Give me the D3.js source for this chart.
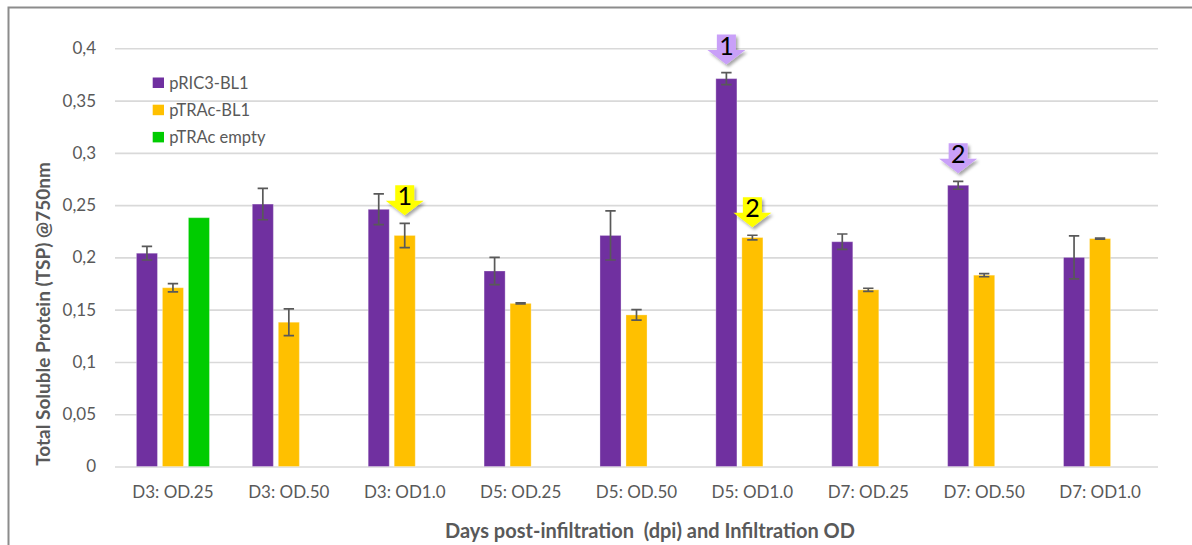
<!DOCTYPE html>
<html>
<head>
<meta charset="utf-8">
<script src="https://cdn.jsdelivr.net/npm/d3@7/dist/d3.min.js"></script>
<style>
  html, body { margin: 0; padding: 0; background: #fff; }
  svg { display: block; font-family: Lato, "Liberation Sans", sans-serif; }
</style>
</head>
<body>
<svg id="chart" width="1192" height="545"></svg>
<script>
// Sample groups: days post-infiltration and infiltration OD
const categories = ["D3: OD.25", "D3: OD.50", "D3: OD1.0", "D5: OD.25", "D5: OD.50",
                    "D5: OD1.0", "D7: OD.25", "D7: OD.50", "D7: OD1.0"];
const seriesNames = ["pRIC3-BL1", "pTRAc-BL1", "pTRAc empty"];
const seriesColors = ["#7030A0", "#FFC000", "#00CC00"];

// Mean TSP values and error (±) per construct
const pRIC3Values = [0.204, 0.251, 0.246, 0.187, 0.221, 0.371, 0.215, 0.269, 0.200];
const pRIC3Errors = [0.0065, 0.015, 0.0147, 0.013, 0.0235, 0.0058, 0.0074, 0.0038, 0.0205];
const pTRAcValues = [0.171, 0.138, 0.221, 0.156, 0.145, 0.219, 0.169, 0.183, 0.218];
const pTRAcErrors = [0.004, 0.0128, 0.0116, 0.0005, 0.005, 0.0022, 0.0015, 0.0015, 0.0005];
const emptyValues = [0.238, null, null, null, null, null, null, null, null];

const yTicks = [0, 0.05, 0.1, 0.15, 0.2, 0.25, 0.3, 0.35, 0.4];

// Numbered callout arrows above selected bars
const callouts = [
  { series: 0, category: "D5: OD1.0", label: "1", fill: "#C9A0F8" },
  { series: 0, category: "D7: OD.50", label: "2", fill: "#C9A0F8" },
  { series: 1, category: "D3: OD1.0", label: "1", fill: "#FFFF00" },
  { series: 1, category: "D5: OD1.0", label: "2", fill: "#FFFF00" }
];

const seriesValues = [pRIC3Values, pTRAcValues, emptyValues];
const seriesErrors = [pRIC3Errors, pTRAcErrors, null];

const svg = d3.select("#chart");
const textColor = "#595959";
const gridColor = "#D9D9D9";

const plot = { left: 115, right: 1158, top: 48.3, bottom: 466.5 };

const x = d3.scaleBand().domain(categories).range([plot.left, plot.right]);
const half = x.bandwidth() / 2;
const xInner = d3.scaleBand().domain(d3.range(seriesNames.length))
  .range([half - 39, half + 39]).paddingInner(0.19).paddingOuter(0.095);
const y = d3.scaleLinear().domain([0, 0.4]).range([plot.bottom, plot.top]);

const locale = d3.formatLocale({ decimal: ",", thousands: ".", grouping: [3], currency: ["", "€"] });
const fmt = locale.format("~g");

// Chart frame
svg.append("path")
  .attr("d", "M8.5,545 L8.5,7.5 L1192,7.5")
  .attr("fill", "none").attr("stroke", "#8C8C8C").attr("stroke-width", 2);

// Shadow for callouts
const defs = svg.append("defs");
const shadow = defs.append("filter").attr("id", "shadow")
  .attr("x", "-30%").attr("y", "-30%").attr("width", "160%").attr("height", "160%");
shadow.append("feDropShadow").attr("dx", 2).attr("dy", 2.5).attr("stdDeviation", 1.8)
  .attr("flood-color", "#000").attr("flood-opacity", 0.35);

// Gridlines and y axis
const yAxis = d3.axisLeft(y).tickValues(yTicks).tickFormat(fmt)
  .tickSize(-(plot.right - plot.left)).tickPadding(19);
const gy = svg.append("g").attr("transform", `translate(${plot.left},0)`).call(yAxis);
gy.select(".domain").remove();
gy.selectAll(".tick line").attr("stroke", gridColor).attr("stroke-width", 1.6);
gy.selectAll(".tick text").attr("fill", textColor)
  .attr("font-size", 17).attr("font-family", "Lato, sans-serif");

// x axis labels
const xAxis = d3.axisBottom(x).tickSize(0).tickPadding(19);
const gx = svg.append("g").attr("transform", `translate(0,${plot.bottom})`).call(xAxis);
gx.select(".domain").remove();
gx.selectAll(".tick text").attr("fill", textColor)
  .attr("font-size", 17).attr("font-family", "Lato, sans-serif");

// Bars
seriesValues.forEach((vals, si) => {
  const g = svg.append("g");
  g.selectAll("rect")
    .data(categories.map((c, i) => ({ c, v: vals[i] })).filter(d => d.v != null))
    .join("rect")
    .attr("x", d => x(d.c) + xInner(si))
    .attr("width", xInner.bandwidth())
    .attr("y", d => y(d.v))
    .attr("height", d => y(0) - y(d.v))
    .attr("fill", seriesColors[si])
    .attr("stroke", "#fff").attr("stroke-opacity", 0.3).attr("stroke-width", 1);
});

// Error bars
seriesValues.forEach((vals, si) => {
  const errs = seriesErrors[si];
  if (!errs) return;
  const g = svg.append("g").attr("stroke", "#595959").attr("stroke-width", 1.7).attr("fill", "none");
  categories.forEach((c, i) => {
    const cx = x(c) + xInner(si) + xInner.bandwidth() / 2;
    const top = y(vals[i] + errs[i]);
    const bot = y(vals[i] - errs[i]);
    g.append("path")
      .attr("d", `M${cx},${top} L${cx},${bot} M${cx - 5.2},${top} L${cx + 5.2},${top} M${cx - 5.2},${bot} L${cx + 5.2},${bot}`);
  });
});

// Callout arrows
callouts.forEach(co => {
  const i = categories.indexOf(co.category);
  const vals = seriesValues[co.series];
  const errs = seriesErrors[co.series];
  const cx = x(co.category) + xInner(co.series) + xInner.bandwidth() / 2;
  const tip = y(vals[i] + errs[i]) - 8;
  const bw = 9.5, hw = 19, hh = 14.5, bh = 15.5;
  const top = tip - hh - bh;
  const path = `M${cx - bw},${top} L${cx + bw},${top} L${cx + bw},${tip - hh} L${cx + hw},${tip - hh}
    L${cx},${tip} L${cx - hw},${tip - hh} L${cx - bw},${tip - hh} Z`;
  const g = svg.append("g");
  g.append("path").attr("d", path).attr("fill", co.fill).attr("filter", "url(#shadow)");
  g.append("text").attr("x", cx).attr("y", top + 20)
    .attr("text-anchor", "middle").attr("font-size", 25).attr("fill", "#000")
    .attr("font-family", "Lato, sans-serif")
    .text(co.label);
});

// Legend
const legend = svg.append("g").attr("transform", "translate(152.7,77.5)");
seriesNames.forEach((name, i) => {
  const row = legend.append("g").attr("transform", `translate(0,${i * 27.2})`);
  row.append("rect").attr("width", 11.3).attr("height", 10.5).attr("fill", seriesColors[i]);
  row.append("text").attr("x", 16.5).attr("y", 5.5).attr("dy", "0.35em")
    .attr("font-size", 16.5).attr("fill", textColor).text(name);
});

// Axis titles
svg.append("text")
  .attr("transform", "translate(43,314) rotate(-90)")
  .attr("text-anchor", "middle").attr("dy", "0.35em")
  .attr("font-size", 19).attr("font-weight", "bold").attr("fill", textColor)
  .text("Total Soluble Protein (TSP) @750nm");

svg.append("text")
  .attr("x", 650).attr("y", 531).attr("dy", "0.35em")
  .attr("text-anchor", "middle")
  .attr("font-size", 20).attr("font-weight", "bold").attr("fill", textColor)
  .attr("xml:space", "preserve")
  .text("Days post-infiltration  (dpi) and Infiltration OD");
</script>
</body>
</html>
